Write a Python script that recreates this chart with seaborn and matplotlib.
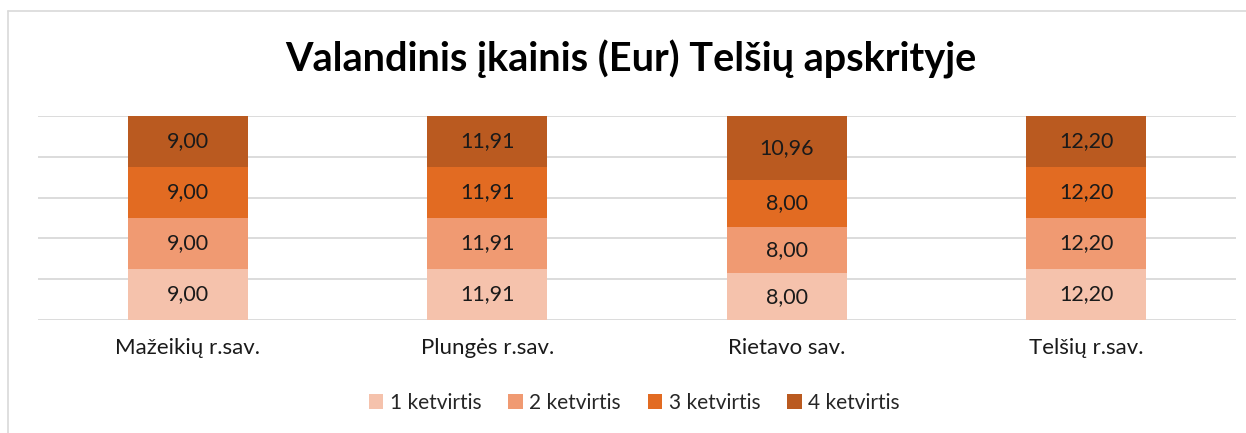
import numpy as np
import pandas as pd
import matplotlib.pyplot as plt
import seaborn as sns
from matplotlib.patches import Patch

municipalities = ['Mažeikių r.sav.', 'Plungės r.sav.', 'Rietavo sav.', 'Telšių r.sav.']
quarters = ['1 ketvirtis', '2 ketvirtis', '3 ketvirtis', '4 ketvirtis']
q1 = [9.00, 11.91, 8.00, 12.20]
q2 = [9.00, 11.91, 8.00, 12.20]
q3 = [9.00, 11.91, 8.00, 12.20]
q4 = [9.00, 11.91, 10.96, 12.20]
colors = ['#F5C2AC', '#F09A72', '#E26B22', '#BA5A20']

values = np.array([q1, q2, q3, q4])
share = values / values.sum(axis=0) * 100
cum = share.cumsum(axis=0)

sns.set_style('white')
plt.rcParams['font.family'] = ['Lato', 'DejaVu Sans']

fig = plt.figure(figsize=(12.46, 4.33), dpi=100)
ax = fig.add_axes([0.0305, 0.261, 0.9615, 0.471])

# stacked 100% bars: draw the cumulative tops from the highest down
for i in range(3, -1, -1):
    df = pd.DataFrame({'sav': municipalities, 'top': cum[i]})
    sns.barplot(data=df, x='sav', y='top', color=colors[i], width=0.4,
                saturation=1, linewidth=0, ax=ax, zorder=3)

for j in range(len(municipalities)):
    for i in range(4):
        mid = cum[i, j] - share[i, j] / 2
        ax.text(j, mid, f'{values[i, j]:.2f}'.replace('.', ','),
                ha='center', va='center', fontsize=15.5, color='#1a1a1a', zorder=4)

ax.set_ylim(0, 100)
ax.set_xlim(-0.5, 3.5)
ax.set_yticks([0, 20, 40, 60, 80, 100])
ax.yaxis.grid(True, color='#D9D9D9', linewidth=1.3, zorder=0)
ax.set_yticklabels([])
ax.tick_params(axis='both', length=0)
ax.tick_params(axis='x', labelsize=16, pad=13, colors='#1a1a1a')
ax.set_xlabel('')
ax.set_ylabel('')
for s in ax.spines.values():
    s.set_visible(False)

fig.text(0.506, 0.862, 'Valandinis įkainis (Eur) Telšių apskrityje',
         ha='center', va='center', fontsize=28.5, fontweight='bold', color='black')

handles = [Patch(facecolor=c, edgecolor='none') for c in colors]
fig.legend(handles, quarters, loc='center', bbox_to_anchor=(0.509, 0.07), ncol=4,
           frameon=False, fontsize=15, handlelength=0.7, handleheight=0.7,
           handletextpad=0.3, columnspacing=1.3)

# chart frame (left and top edges visible)
fig.add_artist(plt.Line2D([8 / 1246, 8 / 1246], [0, 1 - 11 / 433], color='#D9D9D9', linewidth=1.2))
fig.add_artist(plt.Line2D([8 / 1246, 1], [1 - 11 / 433, 1 - 11 / 433], color='#D9D9D9', linewidth=1.2))

fig.savefig('out.png', dpi=100)
